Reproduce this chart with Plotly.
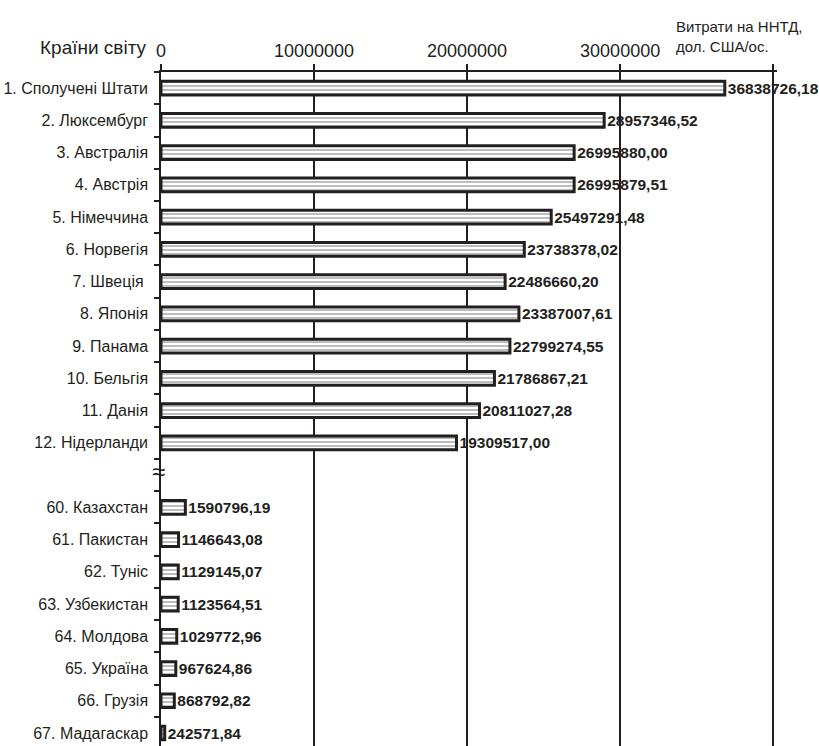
import plotly.graph_objects as go

# Countries (top group and bottom group, separated by a gap)
top_countries = ["1. Сполучені Штати", "2. Люксембург", "3. Австралія", "4. Австрія",
                 "5. Німеччина", "6. Норвегія", "7. Швеція ", "8. Японія", "9. Панама",
                 "10. Бельгія", "11. Данія", "12. Нідерланди"]
top_values = [36838726.18, 28957346.52, 26995880.00, 26995879.51, 25497291.48,
              23738378.02, 22486660.20, 23387007.61, 22799274.55, 21786867.21,
              20811027.28, 19309517.00]

bottom_countries = ["60. Казахстан", "61. Пакистан", "62. Туніс", "63. Узбекистан",
                    "64. Молдова", "65. Україна", "66. Грузія", "67. Мадагаскар"]
bottom_values = [1590796.19, 1146643.08, 1129145.07, 1123564.51, 1029772.96,
                 967624.86, 868792.82, 242571.84]

x_tick_values = [0, 10000000, 20000000, 30000000, 40000000]
x_tick_labels = ["0", "10000000", "20000000", "30000000", ""]

INK = "#231f20"
FONT = "Liberation Sans, Arial, sans-serif"

# Slot positions: one empty slot between the groups for the break mark
countries = top_countries + bottom_countries
values = top_values + bottom_values
gap_pos = len(top_countries)
positions = list(range(len(top_countries))) + [gap_pos + 1 + i for i in range(len(bottom_countries))]
n_slots = positions[-1] + 1
y_range = [n_slots - 0.6, -0.5]
slot_bounds = [p - 0.5 for p in range(n_slots + 1)]

labels = [f"{v:.2f}".replace(".", ",") for v in values]

fig = go.Figure()
fig.add_trace(go.Bar(
    x=values,
    y=positions,
    orientation="h",
    width=0.42,
    marker=dict(
        color="white",
        line=dict(color=INK, width=3),
        pattern=dict(shape="-", fgcolor=INK, bgcolor="white", size=4, solidity=0.3),
    ),
    text=labels,
    textposition="outside",
    constraintext="none",
    cliponaxis=False,
    textfont=dict(family=FONT, size=15.5, color=INK, weight="bold"),
    hoverinfo="skip",
))
# Invisible helper trace that carries the overlay axis with the slot-boundary ticks
fig.add_trace(go.Scatter(
    x=[0], y=[0], yaxis="y2", mode="markers",
    marker=dict(opacity=0), hoverinfo="skip", showlegend=False,
))

fig.update_layout(
    width=819, height=746,
    margin=dict(l=161, r=42, t=72, b=0),
    paper_bgcolor="white", plot_bgcolor="white",
    showlegend=False,
    font=dict(family=FONT, color=INK),
    xaxis=dict(
        side="top",
        range=[0, 40250000],
        automargin=False,
        tickmode="array", tickvals=x_tick_values, ticktext=x_tick_labels,
        ticks="outside", ticklen=6, tickwidth=1.5, tickcolor=INK,
        tickfont=dict(family=FONT, size=18, color=INK),
        showgrid=True, gridcolor=INK, gridwidth=1.5,
        showline=True, linecolor=INK, linewidth=1.5,
        zeroline=False,
    ),
    yaxis=dict(
        range=y_range,
        automargin=False,
        tickmode="array", tickvals=positions, ticktext=countries,
        ticks="", ticklabelstandoff=8,
        tickfont=dict(family=FONT, size=16, color=INK),
        showgrid=False,
        showline=True, linecolor=INK, linewidth=1.5,
        zeroline=False,
    ),
    yaxis2=dict(
        overlaying="y", side="left", anchor="x",
        range=y_range,
        automargin=False,
        tickmode="array", tickvals=slot_bounds,
        ticks="outside", ticklen=6, tickwidth=1.5, tickcolor=INK,
        showticklabels=False, showgrid=False, showline=False, zeroline=False,
    ),
    annotations=[
        dict(text="Країни світу", xref="paper", yref="paper", x=-0.02, y=1.0,
             xanchor="right", yanchor="bottom", yshift=12, showarrow=False,
             font=dict(family=FONT, size=19, color=INK)),
        dict(text="Витрати на ННТД,<br>дол. США/ос.", xref="paper", yref="paper",
             x=0.833, y=1.0, xanchor="left", yanchor="bottom", yshift=15, align="left",
             showarrow=False, font=dict(family=FONT, size=15, color=INK)),
        dict(text="≈", xref="x", yref="y", x=0, y=gap_pos - 0.12, xanchor="center",
             xshift=-3, showarrow=False, font=dict(family=FONT, size=24, color=INK)),
    ],
)

fig.write_html("out.html")
